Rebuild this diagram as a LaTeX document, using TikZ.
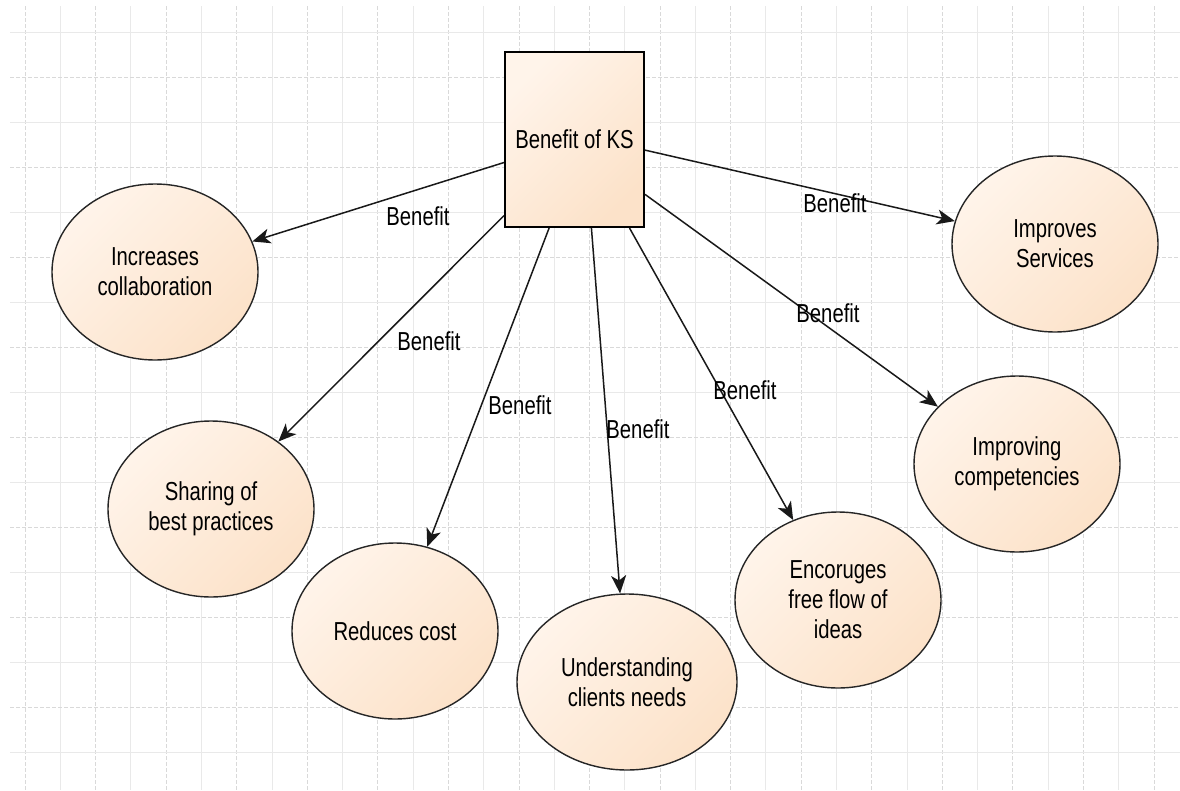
\documentclass[tikz,border=0pt]{standalone}
\usepackage{fontspec}
\setmainfont{Liberation Sans}[FakeStretch=0.78]
\usetikzlibrary{shapes.geometric,arrows.meta,calc}
\definecolor{peachL}{HTML}{FFF4EA}
\definecolor{peachD}{HTML}{FCE2C9}
\definecolor{gridA}{HTML}{D9D9D9}
\definecolor{gridB}{HTML}{E9E9E9}
\begin{document}
\begin{tikzpicture}[x=1pt,y=-1pt,
  every node/.style={font=\fontsize{26}{30}\selectfont, text=black},
  benefitbox/.style={draw=black, line width=2pt, top color=peachL, bottom color=peachD, shading angle=45, minimum width=139pt, minimum height=175pt, inner sep=0pt},
  benefitell/.style={ellipse, draw=black!85, line width=1.4pt, top color=peachL, bottom color=peachD, shading angle=45, minimum width=206pt, minimum height=176pt, inner sep=0pt, align=center},
  conn/.style={draw=black!90, line width=1.5pt, -{Stealth[length=18pt,width=15pt,inset=5pt]}},
  lbl/.style={inner sep=0pt},
  griddash/.style={draw=gridA, line width=0.8pt, dash pattern=on 4pt off 2pt},
  gridsolid/.style={draw=gridB, line width=0.8pt}
]
\fill[white] (0,0) rectangle (1180,790);
\useasboundingbox (0,0) rectangle (1180,790);
% grid
\foreach \k in {0,...,32}{
  \pgfmathsetmacro{\gx}{25+35.28*\k}
  \ifodd\k \draw[gridsolid] (\gx,6) -- (\gx,790); \else \draw[griddash] (\gx,6) -- (\gx,790); \fi
}
\foreach \k in {0,...,16}{
  \pgfmathsetmacro{\gy}{32+45*\k}
  \ifodd\k \draw[griddash] (10,\gy) -- (1180,\gy); \else \draw[gridsolid] (10,\gy) -- (1180,\gy); \fi
}
% nodes
\node[benefitbox] (box) at (574.5,139.5) {Benefit of KS};
\node[benefitell] (A) at (155,272) {Increases\\collaboration};
\node[benefitell] (B) at (211,509) {Sharing of\\best practices};
\node[benefitell] (C) at (395,631) {Reduces cost};
\node[benefitell, minimum width=220pt] (D) at (627,682) {Understanding\\clients needs};
\node[benefitell] (E) at (838,600) {Encoruges\\free flow of\\ideas};
\node[benefitell] (F) at (1017,464) {Improving\\competencies};
\node[benefitell] (G) at (1055,244) {Improves\\Services};
% start points on the box
\coordinate (sA) at ($(box.north west)!0.63!(box.south west)$);
\coordinate (sB) at ($(box.north west)!0.93!(box.south west)$);
\coordinate (sC) at ($(box.south west)!0.32!(box.south east)$);
\coordinate (sD) at ($(box.south west)!0.62!(box.south east)$);
\coordinate (sE) at ($(box.south west)!0.89!(box.south east)$);
\coordinate (sF) at ($(box.north east)!0.81!(box.south east)$);
\coordinate (sG) at ($(box.north east)!0.56!(box.south east)$);
% connectors
\draw[conn] (sA) -- (A);
\draw[conn] (sB) -- (B);
\draw[conn] (sC) -- (C);
\draw[conn] (sD) -- (D);
\draw[conn] (sE) -- (E);
\draw[conn] (sF) -- (F);
\draw[conn] (sG) -- (G);
% labels
\node[lbl] (lA) at (418,216) {Benefit};
\node[lbl] (lB) at (429,341) {Benefit};
\node[lbl] (lC) at (520,405) {Benefit};
\node[lbl] (lD) at (638,429) {Benefit};
\node[lbl] (lE) at (745,390) {Benefit};
\node[lbl] (lF) at (828,313) {Benefit};
\node[lbl] (lG) at (835,203) {Benefit};
\end{tikzpicture}
\end{document}
